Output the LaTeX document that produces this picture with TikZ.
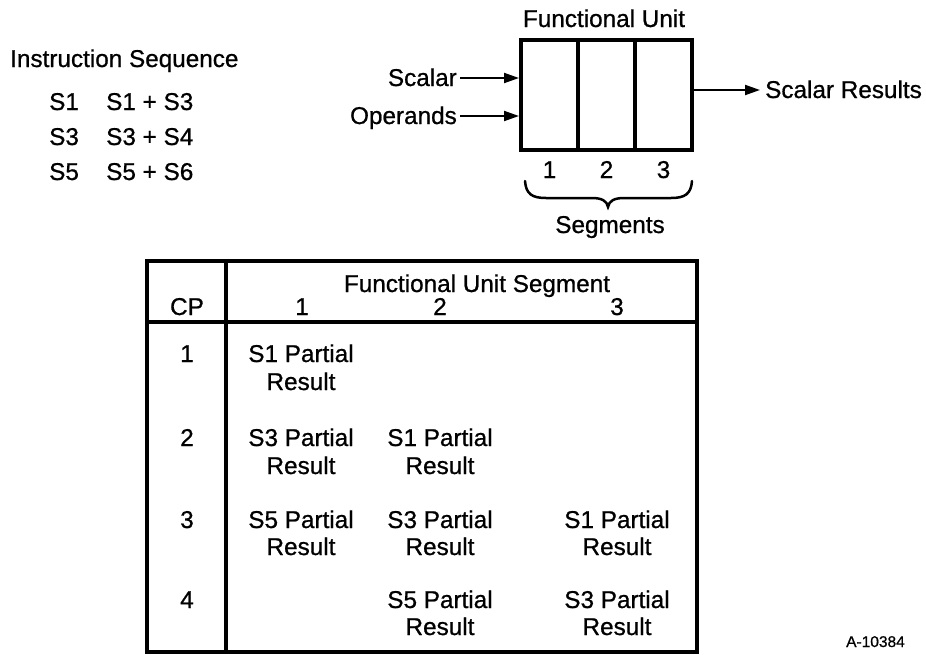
\documentclass[tikz,border=0pt]{standalone}
\usepackage{fontspec}
\setmainfont{Liberation Sans}[FakeBold=0.8]
\usetikzlibrary{arrows.meta}

\tikzset{
  txt/.style={inner sep=0pt, font=\fontsize{24.3}{28}\selectfont},
  small/.style={inner sep=0pt, font=\fontsize{15.5}{18}\selectfont},
  arr/.style={-{Triangle[length=15pt,width=10pt]}, line width=2pt},
  unitbox/.style={draw, line width=4pt, minimum width=171pt, minimum height=110.5pt, inner sep=0pt},
  tline/.style={line width=3.5pt},
}

\begin{document}
\begin{tikzpicture}[x=1pt, y=-1pt]
\useasboundingbox (0,0) rectangle (926,654);

% instruction sequence
\node[txt, anchor=base west] (iseq) at (10,67) {Instruction Sequence};
\node[txt, anchor=base west] (r1a) at (49,110) {S1};
\node[txt, anchor=base west] (r1b) at (106,110) {S1 + S3};
\node[txt, anchor=base west] (r2a) at (49,145) {S3};
\node[txt, anchor=base west] (r2b) at (106,145) {S3 + S4};
\node[txt, anchor=base west] (r3a) at (49,180) {S5};
\node[txt, anchor=base west] (r3b) at (106,180) {S5 + S6};

% functional unit with three segments
\node[unitbox] (fu) at (606.5,94.75) {};
\draw[line width=4pt] (578,39.5) -- (578,150);
\draw[line width=4pt] (635,39.5) -- (635,150);
\node[txt, anchor=base] (futitle) at (604,27) {Functional Unit};

% inputs and output
\node[txt, anchor=base east] (scalar) at (457,86) {Scalar};
\node[txt, anchor=base east] (operands) at (457,124) {Operands};
\coordinate (in1) at (fu.west |- 0,78);
\coordinate (in2) at (fu.west |- 0,116);
\draw[arr] ([xshift=3pt]scalar.east |- in1) -- (in1);
\draw[arr] ([xshift=3pt]operands.east |- in2) -- (in2);
\node[txt, anchor=base west] (results) at (765,98) {Scalar Results};
\coordinate (out) at (fu.east |- 0,90);
\draw[arr] (out) -- ([xshift=-5pt]results.west |- out);

% segment numbers and brace
\node[txt, anchor=base] (s1) at (549.5,178) {1};
\node[txt, anchor=base] (s2) at (606.5,178) {2};
\node[txt, anchor=base] (s3) at (663.5,178) {3};
\draw[line width=2.5pt, line cap=round]
  (525,181) .. controls (526,194) and (532,198) .. (546,198) -- (592,198)
  .. controls (602,198) and (607,201) .. (608,207)
  .. controls (609,201) and (614,198) .. (624,198) -- (671,198)
  .. controls (685,198) and (691,194) .. (692,181);
\node[txt, anchor=base] (segs) at (610,233) {Segments};

% timing table
\draw[tline] (147,261) rectangle (697,652);
\draw[tline] (226,261) -- (226,652);
\draw[tline] (147,322) -- (697,322);

\node[txt, anchor=base] (fus) at (477,292) {Functional Unit Segment};
\node[txt, anchor=base] (cp) at (187,315) {CP};
\node[txt, anchor=base] (h1) at (302,315) {1};
\node[txt, anchor=base] (h2) at (440,315) {2};
\node[txt, anchor=base] (h3) at (617,315) {3};

\node[txt, anchor=base] (c1) at (187,362) {1};
\node[txt, anchor=base] (c2) at (187,446) {2};
\node[txt, anchor=base] (c3) at (187,528) {3};
\node[txt, anchor=base] (c4) at (187,608) {4};

% partial results per cycle
\node[txt, anchor=base] (p11) at (301,362) {S1 Partial};
\node[txt, anchor=base] (p11r) at (301,390) {Result};

\node[txt, anchor=base] (p21) at (301,446) {S3 Partial};
\node[txt, anchor=base] (p21r) at (301,474) {Result};
\node[txt, anchor=base] (p22) at (440,446) {S1 Partial};
\node[txt, anchor=base] (p22r) at (440,474) {Result};

\node[txt, anchor=base] (p31) at (301,528) {S5 Partial};
\node[txt, anchor=base] (p31r) at (301,555) {Result};
\node[txt, anchor=base] (p32) at (440,528) {S3 Partial};
\node[txt, anchor=base] (p32r) at (440,555) {Result};
\node[txt, anchor=base] (p33) at (617,528) {S1 Partial};
\node[txt, anchor=base] (p33r) at (617,555) {Result};

\node[txt, anchor=base] (p42) at (440,608) {S5 Partial};
\node[txt, anchor=base] (p42r) at (440,635) {Result};
\node[txt, anchor=base] (p43) at (617,608) {S3 Partial};
\node[txt, anchor=base] (p43r) at (617,635) {Result};

\node[small, anchor=base west] (fig) at (846,647) {A-10384};
\end{tikzpicture}
\end{document}
